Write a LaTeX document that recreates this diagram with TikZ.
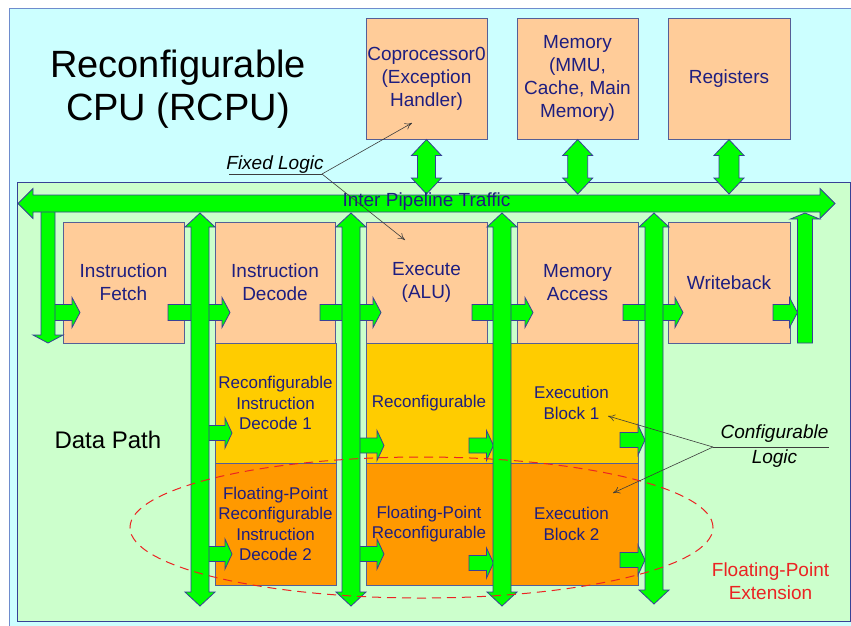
\documentclass[tikz,border=0pt]{standalone}
\usepackage{fontspec}
\setmainfont{Liberation Sans}
\usetikzlibrary{arrows.meta}

\definecolor{cyanbg}{RGB}{204,255,255}
\definecolor{greenbg}{RGB}{204,255,204}
\definecolor{peach}{RGB}{255,204,153}
\definecolor{gold}{RGB}{255,204,0}
\definecolor{amber}{RGB}{255,153,0}
\definecolor{navy}{RGB}{30,30,128}
\definecolor{lime}{RGB}{0,255,0}
\definecolor{edgeblue}{RGB}{55,65,150}
\definecolor{boxedge}{RGB}{85,95,150}
\definecolor{outeredge}{RGB}{110,140,205}
\definecolor{extred}{RGB}{235,35,35}
\definecolor{pointergray}{RGB}{60,60,60}

% block arrow pointing right: x start, x tip, y centre, shaft half, head half, head length
\newcommand\BlockRight[6]{%
  \filldraw[blockarrow] (#1,#3-#4) -- (#2-#6,#3-#4) -- (#2-#6,#3-#5) -- (#2,#3)
    -- (#2-#6,#3+#5) -- (#2-#6,#3+#4) -- (#1,#3+#4) -- cycle;}
% vertical double block arrow: x centre, y top tip, y bottom tip, shaft half, head half, head length
\newcommand\BlockUpDown[6]{%
  \filldraw[blockarrow] (#1-#4,#2+#6) -- (#1-#5,#2+#6) -- (#1,#2) -- (#1+#5,#2+#6)
    -- (#1+#4,#2+#6) -- (#1+#4,#3-#6) -- (#1+#5,#3-#6) -- (#1,#3) -- (#1-#5,#3-#6)
    -- (#1-#4,#3-#6) -- cycle;}
% horizontal double block arrow: y centre, x left tip, x right tip, shaft half, head half, head length
\newcommand\BlockLeftRight[6]{%
  \filldraw[blockarrow] (#2+#6,#1-#4) -- (#2+#6,#1-#5) -- (#2,#1) -- (#2+#6,#1+#5)
    -- (#2+#6,#1+#4) -- (#3-#6,#1+#4) -- (#3-#6,#1+#5) -- (#3,#1) -- (#3-#6,#1-#5)
    -- (#3-#6,#1-#4) -- cycle;}
% single block arrow down: x centre, y flat top, y tip, shaft half, head half, head length
\newcommand\BlockDown[6]{%
  \filldraw[blockarrow] (#1-#4,#2) -- (#1+#4,#2) -- (#1+#4,#3-#6) -- (#1+#5,#3-#6)
    -- (#1,#3) -- (#1-#5,#3-#6) -- (#1-#4,#3-#6) -- cycle;}
% single block arrow up: x centre, y flat bottom, y tip, shaft half, head half, head length
\newcommand\BlockUp[6]{%
  \filldraw[blockarrow] (#1-#4,#2) -- (#1+#4,#2) -- (#1+#4,#3+#6) -- (#1+#5,#3+#6)
    -- (#1,#3) -- (#1-#5,#3+#6) -- (#1-#4,#3+#6) -- cycle;}

\begin{document}
\begin{tikzpicture}[x=1pt,y=-1pt,
  blockarrow/.style={fill=lime,draw=edgeblue,line width=0.8pt,line join=miter},
  box/.style={draw=boxedge,line width=0.8pt,fill=peach,inner sep=0pt,align=center,
    text=navy,font=\fontsize{19}{23}\selectfont},
  subbox/.style={box,font=\fontsize{17}{20.5}\selectfont},
  note/.style={inner sep=0pt,align=center,text=black,font=\fontsize{19}{23}\selectfont\itshape},
  pointer/.style={draw=pointergray,line width=0.6pt},
  pointto/.style={pointer,-{To[length=7pt,width=7pt]}}]

\useasboundingbox (0,0) rectangle (851,625);
\fill[white] (0,0) rectangle (851,625);

% system background and data path region
\begin{scope}
  \clip (0,0) rectangle (851,625);
  \filldraw[fill=cyanbg,draw=outeredge,line width=0.9pt] (9,8) rectangle (870,640);
  \filldraw[fill=greenbg,draw=edgeblue,line width=0.9pt] (17,182) rectangle (850,621);
\end{scope}

% title and region label
\node[align=center,font=\fontsize{38}{43}\selectfont] (title) at (178,89) {Reconfigurable\\CPU (RCPU)};
\node[anchor=west,font=\fontsize{24}{28}\selectfont] (datapath) at (51,440) {Data Path};

% shared units
\node[box,minimum width=121pt,minimum height=121pt] (cop) at (426.5,78.5) {Coprocessor0\\(Exception\\Handler)};
\node[box,minimum width=121pt,minimum height=121pt] (mem) at (577.5,78.5) {Memory\\(MMU,\\Cache, Main\\Memory)};
\node[box,minimum width=122pt,minimum height=121pt] (reg) at (729,78.5) {Registers};

% reconfigurable sub-blocks
\node[subbox,fill=gold,minimum width=121pt,minimum height=120pt] (dec1) at (275.5,403) {Reconfigurable\\Instruction\\Decode 1};
\node[subbox,fill=gold,minimum width=134pt,minimum height=120pt] (exe1) at (433,403) {};
\node[subbox,fill=gold,minimum width=133pt,minimum height=120pt] (blk1) at (571.5,403) {Execution\\Block 1};
\node[subbox,fill=amber,minimum width=121pt,minimum height=122pt] (dec2) at (275.5,524) {Floating-Point\\Reconfigurable\\Instruction\\Decode 2};
\node[subbox,fill=amber,minimum width=134pt,minimum height=122pt] (exe2) at (433,524) {};
\node[subbox,fill=amber,minimum width=133pt,minimum height=122pt] (blk2) at (571.5,524) {Execution\\Block 2};
\node[subbox,draw=none,fill=none] (exe1t) at (429,403) {Reconfigurable};
\node[subbox,draw=none,fill=none] (exe2t) at (429,524) {Floating-Point\\Reconfigurable};

% pipeline stages
\node[box,minimum width=121pt,minimum height=121pt] (ifetch) at (123.5,282.5) {Instruction\\Fetch};
\node[box,minimum width=120pt,minimum height=121pt] (idec) at (275,282.5) {Instruction\\Decode};
\node[box,minimum width=121pt,minimum height=121pt] (iexe) at (426.5,282.5) {Execute\\(ALU)};
\node[box,minimum width=121pt,minimum height=121pt] (imem) at (577.5,282.5) {Memory\\Access};
\node[box,minimum width=122pt,minimum height=121pt] (iwb) at (729,282.5) {Writeback};

% stage-to-stage arrows
\BlockRight{50}{80}{312.5}{8}{15}{8}
\BlockRight{168}{230}{312.5}{8}{15}{8}
\BlockRight{320}{381}{312.5}{8}{15}{8}
\BlockRight{472}{533}{312.5}{8}{15}{8}
\BlockRight{623}{683}{312.5}{8}{15}{8}
\BlockRight{773}{797.5}{312.5}{8}{15}{8}
\BlockRight{205}{232}{433}{7.5}{15}{7}
\BlockRight{355}{384}{445.5}{7.5}{15}{7}
\BlockRight{469}{493.5}{445.5}{7.5}{15}{7}
\BlockRight{620}{645}{440}{7.5}{15}{7}
\BlockRight{205}{232}{554}{7.5}{15}{7}
\BlockRight{355}{384}{554}{7.5}{15}{7}
\BlockRight{469}{493.5}{563}{7.5}{15}{7}
\BlockRight{620}{645}{560}{7.5}{15}{7}

% vertical traffic arrows
\BlockDown{48}{206}{343}{7}{15}{8}
\BlockUp{805}{343}{213}{7.5}{14.5}{6}
\BlockUpDown{200}{213}{606}{9}{15}{14}
\BlockUpDown{351}{213}{606}{9}{15}{14}
\BlockUpDown{502}{213}{606}{9}{15}{14}
\BlockUpDown{654}{213}{604}{9}{15}{14}

% links to shared units and the pipeline bus
\BlockUpDown{426.5}{139.5}{194}{9}{15}{16}
\BlockUpDown{577.7}{139.5}{194}{10}{15}{16}
\BlockUpDown{729}{139.5}{194}{10}{15}{16}
\BlockLeftRight{203.5}{18}{835}{8.5}{15}{15}
\node[text=navy,inner sep=0pt,font=\fontsize{19}{23}\selectfont] (bus) at (426.5,202) {Inter Pipeline Traffic};

% floating-point extension
\draw[extred,line width=1pt,dash pattern=on 9pt off 6pt] (421.5,527.5) ellipse [x radius=291.5pt,y radius=70.5pt];
\node[text=extred,align=center,inner sep=0pt,font=\fontsize{19}{23}\selectfont] (fpx) at (770.5,581) {Floating-Point\\Extension};

% annotations
\node[note,anchor=base] (fixed) at (275,169) {Fixed Logic};
\coordinate (fixedj) at (322,174);
\coordinate (fixedc) at (412,123);
\coordinate (fixede) at (405,240);
\draw[pointer] (229,174) -- (fixedj);
\draw[pointto] (fixedj) -- (fixedc);
\draw[pointto] (fixedj) -- (fixede);

\node[note] (conf) at (774.5,446) {Configurable\\[2pt]Logic};
\coordinate (confj) at (713,447);
\coordinate (conf1) at (608,416);
\coordinate (conf2) at (613,493);
\draw[pointer] (confj) -- (829,447);
\draw[pointto] (confj) -- (conf1);
\draw[pointto] (confj) -- (conf2);
\end{tikzpicture}
\end{document}
